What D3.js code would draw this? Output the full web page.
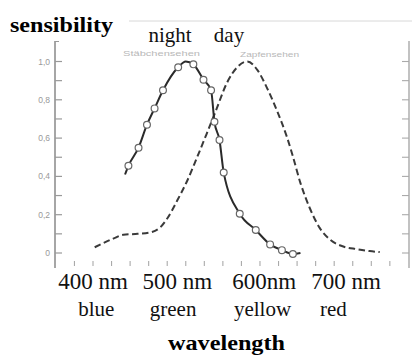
<!DOCTYPE html>
<html>
<head>
<meta charset="utf-8">
<script src="https://cdn.jsdelivr.net/npm/d3@7"></script>
<style>
  html, body { margin: 0; padding: 0; background: #fff; }
  svg { display: block; }
</style>
</head>
<body>
<script>
// ---- data ----
// scotopic (night / rods) curve, wavelength in nm and relative sensitivity
const nightWl  = [438, 442, 454, 464, 473, 483, 501, 510, 519, 531, 540, 544, 550, 555, 574, 593, 610, 624, 637, 646];
const nightVal = [0.41, 0.455, 0.55, 0.67, 0.755, 0.85, 0.97, 1.0, 0.985, 0.905, 0.85, 0.685, 0.59, 0.42, 0.205, 0.12, 0.045, 0.015, -0.005, 0];
const nightMarker = [false, true, true, true, true, true, true, false, true, true, true, true, true, true, true, true, true, true, true, false];
// photopic (day / cones) curve
const dayWl  = [402, 424, 436, 453, 470, 480, 488, 500, 512, 523, 535, 545, 559, 571, 583, 595, 606, 618, 630, 636, 646, 657, 669, 681, 696, 713, 728, 740];
const dayVal = [0.03, 0.075, 0.095, 0.1, 0.11, 0.135, 0.18, 0.275, 0.38, 0.495, 0.625, 0.735, 0.89, 0.97, 1.0, 0.955, 0.865, 0.745, 0.605, 0.52, 0.365, 0.235, 0.13, 0.07, 0.035, 0.02, 0.01, 0.005];
// axis ticks / labels
const yTicks = [0, 0.1, 0.2, 0.3, 0.4, 0.5, 0.6, 0.7, 0.8, 0.9, 1.0];
const yLabels = {0: "0", 0.2: "0,2", 0.4: "0,4", 0.6: "0,6", 0.8: "0,8", 1.0: "1,0"};
const xTicks = [378, 400, 422, 444, 466, 488, 510, 532, 554, 576, 598, 620, 642, 664, 686, 708, 730, 752];
const nmLabels = ["400 nm", "500 nm", "600nm", "700 nm"];
const nmLabelWl = [400, 500, 603, 700];
const colorNames = ["blue", "green", "yellow", "red"];
const colorNameWl = [404, 495, 601, 685];

// ---- layout ----
const W = 412, H = 355;
const svg = d3.select("body").append("svg").attr("width", W).attr("height", H);
svg.append("rect").attr("width", W).attr("height", H).attr("fill", "#fff");

const x = d3.scaleLinear().domain([400, 700]).range([93, 346]);
const y = d3.scaleLinear().domain([0, 1]).range([253, 61.5]);
const axisTop = 41, axisBottom = 268, leftX = 55, rightX = 409;

// faint header rule
svg.append("line").attr("x1", 129).attr("x2", 412).attr("y1", 21).attr("y2", 21)
  .attr("stroke", "#d8d8d8").attr("stroke-width", 1);

// left axis
const gL = svg.append("g");
gL.append("line").attr("x1", leftX).attr("x2", leftX).attr("y1", axisTop).attr("y2", axisBottom)
  .attr("stroke", "#888").attr("stroke-width", 1.5);
gL.append("line").attr("x1", leftX).attr("x2", leftX + 4).attr("y1", axisTop + 0.5).attr("y2", axisTop + 0.5)
  .attr("stroke", "#999").attr("stroke-width", 1);
gL.selectAll("line.t").data(yTicks).join("line").attr("class", "t")
  .attr("x1", leftX).attr("x2", leftX + 7)
  .attr("y1", d => y(d)).attr("y2", d => y(d))
  .attr("stroke", "#999").attr("stroke-width", 1.2);
gL.selectAll("text").data(yTicks.filter(d => yLabels[d] !== undefined)).join("text")
  .attr("x", 50).attr("y", d => y(d) + 3)
  .attr("text-anchor", "end")
  .attr("font-family", "Liberation Sans, Arial, sans-serif")
  .attr("font-size", 8.5).attr("fill", "#999")
  .text(d => yLabels[d]);

// right axis
const gR = svg.append("g");
gR.append("line").attr("x1", rightX).attr("x2", rightX).attr("y1", axisTop).attr("y2", axisBottom)
  .attr("stroke", "#999").attr("stroke-width", 1.2);
gR.selectAll("line.t").data(yTicks).join("line").attr("class", "t")
  .attr("x1", rightX - 7).attr("x2", rightX)
  .attr("y1", d => y(d)).attr("y2", d => y(d))
  .attr("stroke", "#aaa").attr("stroke-width", 1.1);

// bottom ticks
svg.append("g").selectAll("line").data(xTicks).join("line")
  .attr("x1", d => x(d)).attr("x2", d => x(d))
  .attr("y1", 261).attr("y2", 266)
  .attr("stroke", "#aaa").attr("stroke-width", 1.1);

// small faint curve captions
svg.append("text").attr("x", 123).attr("y", 56)
  .attr("font-family", "Liberation Sans, Arial, sans-serif").attr("font-size", 8)
  .attr("fill", "#b8b8b8").attr("textLength", 77).attr("lengthAdjust", "spacingAndGlyphs")
  .text("Stäbchensehen");
svg.append("text").attr("x", 240).attr("y", 57)
  .attr("font-family", "Liberation Sans, Arial, sans-serif").attr("font-size", 8)
  .attr("fill", "#b8b8b8").attr("textLength", 59).attr("lengthAdjust", "spacingAndGlyphs")
  .text("Zapfensehen");

// curves
const line = d3.line().x(d => x(d[0])).y(d => y(d[1])).curve(d3.curveMonotoneX);
const dayData = dayWl.map((w, i) => [w, dayVal[i]]);
const nightData = nightWl.map((w, i) => [w, nightVal[i]]);

svg.append("path").datum(dayData).attr("d", line)
  .attr("fill", "none").attr("stroke", "#3a3a3a").attr("stroke-width", 2)
  .attr("stroke-dasharray", "6.5,3.5");

svg.append("path").datum(nightData).attr("d", line)
  .attr("fill", "none").attr("stroke", "#2a2a2a").attr("stroke-width", 2);

svg.append("g").selectAll("circle").data(nightData.filter((d, i) => nightMarker[i])).join("circle")
  .attr("cx", d => x(d[0])).attr("cy", d => y(d[1])).attr("r", 3.4)
  .attr("fill", "#fff").attr("stroke", "#666").attr("stroke-width", 1.2);

// white band behind bottom labels
svg.append("rect").attr("x", 0).attr("y", 268).attr("width", W).attr("height", H - 268).attr("fill", "#fff");

const serif = "Liberation Serif, Times New Roman, serif";
// titles
svg.append("text").attr("x", 10).attr("y", 32)
  .attr("font-family", serif).attr("font-weight", "bold").attr("font-size", 22)
  .attr("textLength", 103).attr("lengthAdjust", "spacingAndGlyphs")
  .text("sensibility");
svg.append("text").attr("x", 170).attr("y", 42).attr("text-anchor", "middle")
  .attr("font-family", serif).attr("font-size", 21).attr("fill", "#111")
  .text("night");
svg.append("text").attr("x", 229).attr("y", 42).attr("text-anchor", "middle")
  .attr("font-family", serif).attr("font-size", 21).attr("fill", "#111")
  .text("day");

svg.append("g").selectAll("text").data(nmLabels).join("text")
  .attr("x", (d, i) => x(nmLabelWl[i])).attr("y", 289).attr("text-anchor", "middle")
  .attr("font-family", serif).attr("font-size", 23).attr("fill", "#111")
  .text(d => d);
svg.append("g").selectAll("text").data(colorNames).join("text")
  .attr("x", (d, i) => x(colorNameWl[i])).attr("y", 316).attr("text-anchor", "middle")
  .attr("font-family", serif).attr("font-size", 21).attr("fill", "#111")
  .text(d => d);
svg.append("text").attr("x", 226.5).attr("y", 350).attr("text-anchor", "middle")
  .attr("font-family", serif).attr("font-weight", "bold").attr("font-size", 21)
  .attr("textLength", 117).attr("lengthAdjust", "spacingAndGlyphs")
  .text("wavelength");
</script>
</body>
</html>
